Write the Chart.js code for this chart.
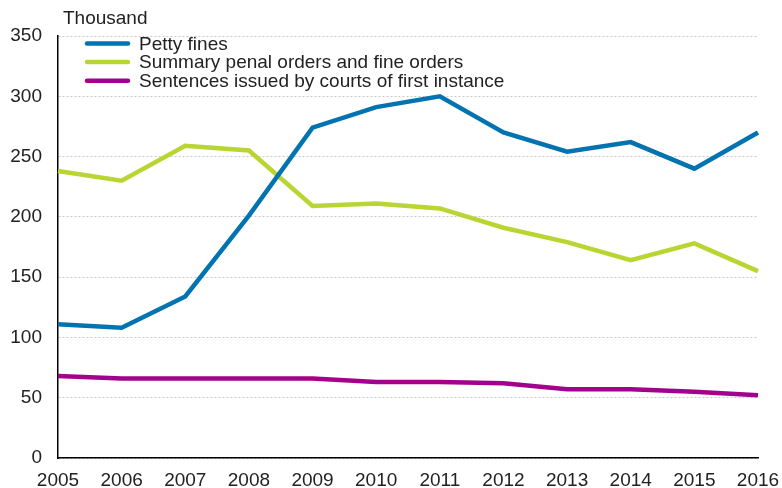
<!DOCTYPE html>
<html>
<head>
<meta charset="utf-8">
<script src="https://cdn.jsdelivr.net/npm/chart.js@4/dist/chart.umd.min.js"></script>
<style>
  html, body { margin: 0; padding: 0; background: #fff; }
  #wrap { width: 782px; height: 488px; }
</style>
</head>
<body>
<div id="wrap"><canvas id="finesChart" width="782" height="488"></canvas></div>
<script>
// Years on the x axis
const years = ["2005", "2006", "2007", "2008", "2009", "2010", "2011", "2012", "2013", "2014", "2015", "2016"];

// Values in thousands
const pettyFines = [111, 108, 134, 201, 274, 291, 300, 270, 254, 262, 240, 270];
const summaryOrders = [238, 230, 259, 255, 209, 211, 207, 191, 179, 164, 178, 155];
const courtSentences = [68, 66, 66, 66, 66, 63, 63, 62, 57, 57, 55, 52];

const seriesLabels = [
    "Petty fines",
    "Summary penal orders and fine orders",
    "Sentences issued by courts of first instance"
];
const seriesColors = ['#0073b0', '#b9d531', '#a4008c'];
const unitLabel = "Thousand";

const FONT = "'Liberation Sans', Arial, sans-serif";

// draws the unit label and the legend inside the plot, top left
const overlayPlugin = {
    id: 'overlay',
    afterDraw(chart) {
        const ctx = chart.ctx;
        ctx.save();
        ctx.font = "19px " + FONT;
        ctx.fillStyle = '#222';
        ctx.textBaseline = 'middle';
        ctx.textAlign = 'left';
        ctx.fillText(unitLabel, 63, 19);

        chart.data.datasets.forEach(function(ds, i) {
            const y = 43.5 + i * 18.6;
            ctx.strokeStyle = ds.borderColor;
            ctx.lineWidth = 4.5;
            ctx.lineCap = 'round';
            ctx.beginPath();
            ctx.moveTo(87, y);
            ctx.lineTo(128, y);
            ctx.stroke();
            ctx.fillText(ds.label, 139, y + 1);
        });
        ctx.restore();
    }
};

const ctx = document.getElementById('finesChart').getContext('2d');
const finesChart = new Chart(ctx, {
    type: 'line',
    data: {
        labels: years,
        datasets: [
            { label: seriesLabels[0], data: pettyFines, borderColor: seriesColors[0] },
            { label: seriesLabels[1], data: summaryOrders, borderColor: seriesColors[1] },
            { label: seriesLabels[2], data: courtSentences, borderColor: seriesColors[2] }
        ]
    },
    options: {
        responsive: false,
        animation: false,
        devicePixelRatio: 1,
        layout: { padding: { top: 36, right: 24, bottom: 0, left: 0 } },
        elements: {
            line: { borderWidth: 4.5, tension: 0, fill: false, borderCapStyle: 'butt', borderJoinStyle: 'miter' },
            point: { radius: 0, hoverRadius: 0 }
        },
        plugins: {
            legend: { display: false },
            tooltip: { enabled: false }
        },
        scales: {
            x: {
                offset: false,
                grid: { display: false, drawTicks: false },
                border: { display: true, color: '#000', width: 1.5 },
                ticks: { color: '#222', font: { family: FONT, size: 19 }, padding: 11, maxRotation: 0, autoSkip: false },
                afterFit: function(scale) {
                    scale.height = 30;
                    scale.paddingLeft = 0;
                    scale.paddingRight = 0;
                }
            },
            y: {
                min: 0,
                max: 350,
                grid: { color: '#c8c8c8', lineWidth: 1, drawTicks: false, borderDash: [2, 2] },
                border: { display: true, color: '#000', width: 1.5, dash: [2, 2] },
                ticks: { stepSize: 50, color: '#222', font: { family: FONT, size: 19 }, padding: 16 },
                afterFit: function(scale) { scale.width = 58; }
            }
        }
    },
    plugins: [overlayPlugin]
});
</script>
</body>
</html>
